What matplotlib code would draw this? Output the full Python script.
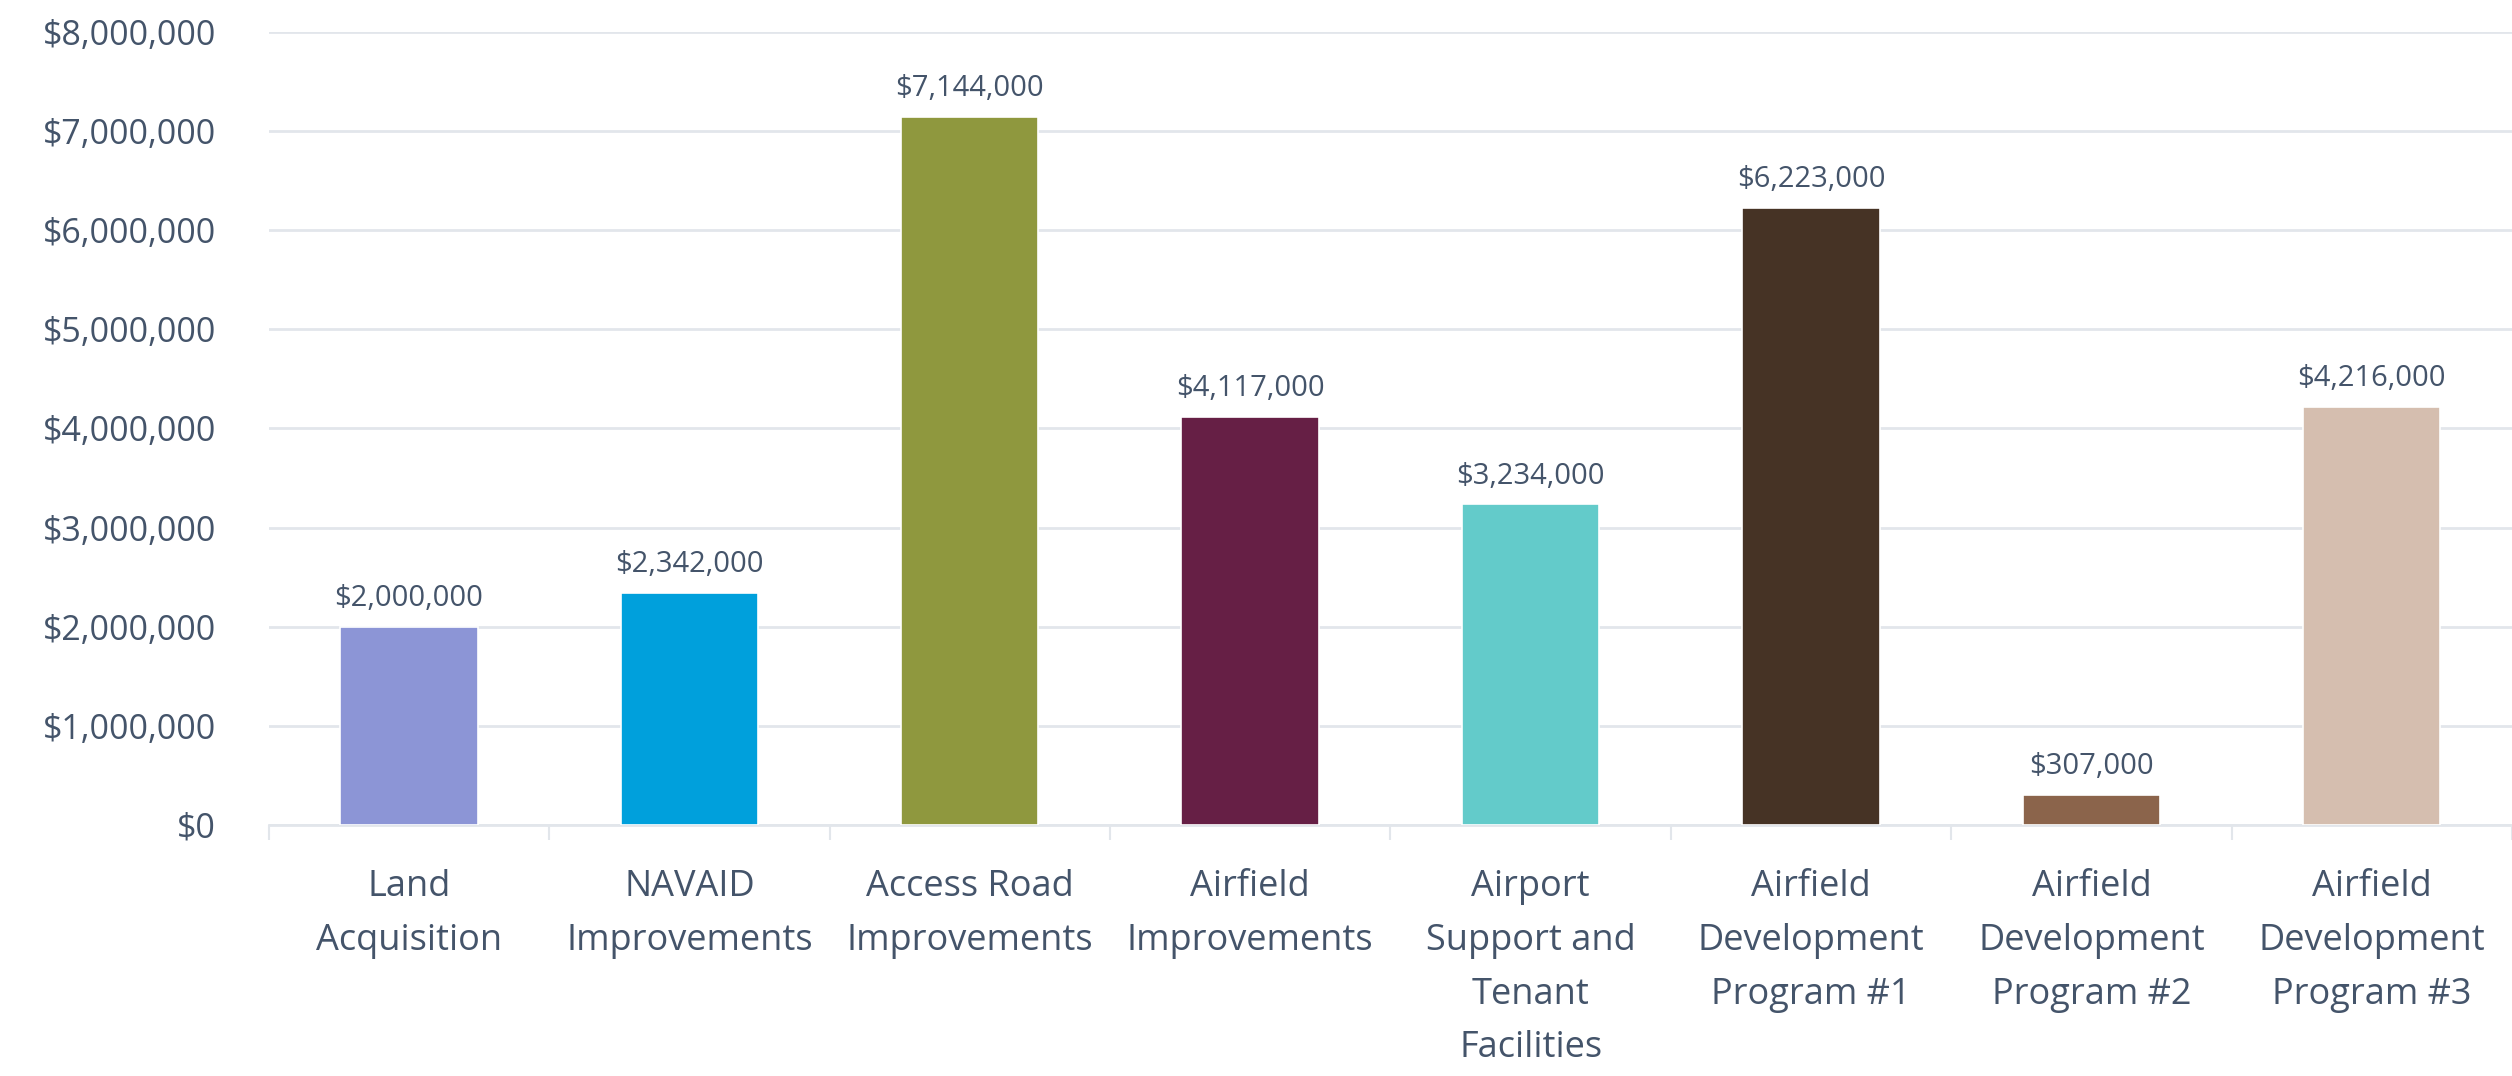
import numpy as np
import matplotlib.pyplot as plt
from matplotlib.ticker import FuncFormatter

plt.rcParams['font.family'] = ['Open Sans', 'DejaVu Sans']

categories = ['Land\nAcquisition', 'NAVAID\nImprovements', 'Access Road\nImprovements',
              'Airfield\nImprovements', 'Airport\nSupport and\nTenant\nFacilities',
              'Airfield\nDevelopment\nProgram #1', 'Airfield\nDevelopment\nProgram #2',
              'Airfield\nDevelopment\nProgram #3']
costs = [2000000, 2342000, 7144000, 4117000, 3234000, 6223000, 307000, 4216000]
colors = ['#8C95D6', '#00A0DC', '#8F983E', '#661F45', '#63CBCA', '#463325', '#8B644B', '#D5BEAF']

TXT = '#44546A'
GRID = '#E2E6EB'

fig = plt.figure(figsize=(25.12, 10.76), dpi=100)
ax = fig.add_axes([0.107, 0.2333, 0.893, 0.737])

x = np.arange(len(costs))
bars = ax.bar(x, costs, width=0.49, color=colors, edgecolor='white', linewidth=1.2, zorder=3)

for b, v in zip(bars, costs):
    ax.annotate('${:,.0f}'.format(v), (b.get_x() + b.get_width() / 2, v),
                xytext=(0, 10), textcoords='offset points', ha='center', va='bottom',
                fontsize=21, color=TXT)

ax.set_xlim(-0.5, len(costs) - 0.5)
ax.set_ylim(0, 8000000)
ax.set_yticks(np.arange(0, 8000001, 1000000))
ax.yaxis.set_major_formatter(FuncFormatter(lambda v, p: '${:,.0f}'.format(v)))
ax.grid(axis='y', color=GRID, linewidth=2, zorder=0)

ax.set_xticks(x)
ax.set_xticklabels(categories, linespacing=1.65)
ax.set_xticks(np.arange(-0.5, len(costs)), minor=True)
ax.tick_params(axis='x', which='major', length=0, pad=32, labelsize=26, labelcolor=TXT)
ax.tick_params(axis='x', which='minor', length=11, width=1.5, color=GRID)
ax.tick_params(axis='y', length=0, pad=38, labelsize=24.5, labelcolor=TXT)

for s in ['left', 'right', 'top']:
    ax.spines[s].set_visible(False)
ax.spines['bottom'].set_color(GRID)
ax.spines['bottom'].set_linewidth(2)

fig.savefig('out.png', dpi=100)
